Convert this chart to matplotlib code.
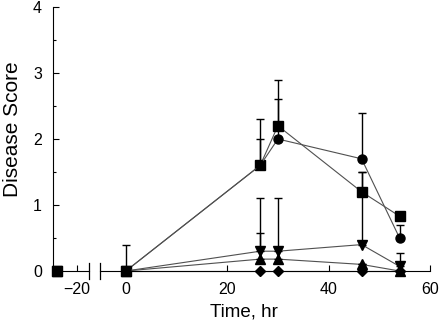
import numpy as np
import matplotlib.pyplot as plt
from matplotlib.ticker import MultipleLocator

plt.rcParams['font.family'] = ['Liberation Sans', 'DejaVu Sans']

# data
pre_time = -24
times = [0, 26.5, 30, 46.5, 54]

square = [0, 1.6, 2.2, 1.2, 0.83]
circle = [0, 1.6, 2.0, 1.7, 0.5]
tri_down = [0, 0.3, 0.3, 0.4, 0.07]
tri_up = [0, 0.18, 0.18, 0.1, 0]
diamond = [0, 0, 0, 0, 0]

# top of the (upper-only) error bars
square_top = [0.4, 2.3, 2.9, 1.5, 0.83]
circle_top = [0, 2.0, 2.6, 2.4, 0.7]
tri_down_top = [0, 1.1, 1.1, 1.5, 0.27]
tri_up_top = [0, 0.57, 0.35, 0.1, 0]
diamond_top = [0, 0, 0, 0, 0]

series = [
    (square, square_top, 's', 6.5),
    (circle, circle_top, 'o', 6.5),
    (tri_down, tri_down_top, 'v', 7),
    (tri_up, tri_up_top, '^', 7),
    (diamond, diamond_top, 'D', 5.5),
]

W, H = 440, 329
fig = plt.figure(figsize=(W / 100, H / 100), dpi=100)
y0, y1 = 271, 7
bottom = (H - y0) / H
height = (y0 - y1) / H
ax1 = fig.add_axes([53 / W, bottom, 36 / W, height])
ax2 = fig.add_axes([100 / W, bottom, 330 / W, height])

for ax in (ax1, ax2):
    ax.spines['top'].set_visible(False)
    ax.spines['right'].set_visible(False)
    ax.set_ylim(0, 4)
    ax.tick_params(direction='in', labelsize=11.5, length=4, width=0.8, pad=8)
    ax.tick_params(which='minor', direction='in', length=2.5, width=0.8)
    ax.set_facecolor('none')

ax1.set_xlim(-24.75, -17.6)
ax1.set_xticks([-20])
ax1.set_yticks([0, 1, 2, 3, 4])
ax1.yaxis.set_minor_locator(MultipleLocator(0.5))

ax2.set_xlim(-5.1, 60)
ax2.set_xticks([0, 20, 40, 60])
ax2.spines['left'].set_visible(False)
ax2.set_yticks([])

for vals, tops, mk, ms in series:
    err = [t - v for t, v in zip(tops, vals)]
    ax2.plot(times, vals, '-', color='#505050', lw=0.8, clip_on=False)
    ax2.errorbar(times, vals, yerr=[np.zeros(len(vals)), err], fmt='none',
                 ecolor='black', elinewidth=1, capsize=3, capthick=1, clip_on=False)
    ax2.plot(times, vals, mk, color='black', ms=ms, ls='none', clip_on=False)
    ax1.plot([pre_time], [vals[0]], mk, color='black', ms=ms, clip_on=False)

# axis break marks
for ax, xpos in ((ax1, 1.0), (ax2, 0.0)):
    ax.plot([xpos, xpos], [-0.03, 0.03], transform=ax.transAxes,
            color='black', lw=0.9, clip_on=False)

fig.text(244 / W, (H - 312) / H, 'Time, hr', ha='center', va='center', fontsize=13.5)
fig.text(13 / W, (H - 129) / H, 'Disease Score', ha='center', va='center',
         rotation=90, fontsize=15)

fig.savefig('out.png', dpi=100)
